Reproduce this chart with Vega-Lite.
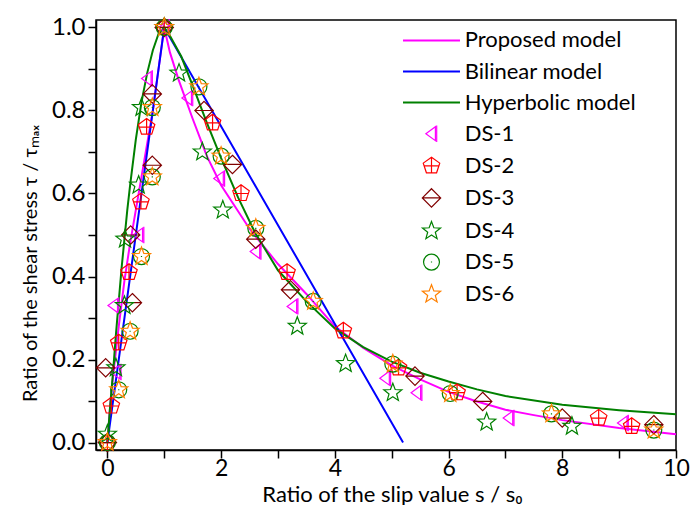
{
  "$schema": "https://vega.github.io/schema/vega-lite/v6.json",
  "width": 580,
  "height": 430,
  "autosize": {"type": "none"},
  "padding": {"left": 96, "top": 20, "right": 15, "bottom": 55},
  "background": "white",
  "config": {
    "view": {"stroke": "#000", "strokeWidth": 1.5},
    "font": "Lato",
    "axis": {
      "grid": false,
      "domainColor": "#000",
      "domainWidth": 1.5,
      "tickColor": "#000",
      "tickWidth": 1.5,
      "tickSize": 8,
      "labelFont": "Lato",
      "labelFontSize": 23,
      "labelColor": "#000",
      "labelFlush": false,
      "labelOverlap": false,
      "titleFont": "Lato",
      "titleFontSize": 22,
      "titleFontWeight": "normal",
      "titleColor": "#000"
    }
  },
  "datasets": {
    "models": [
      {"x": 0, "y": 0, "series": "Proposed model"},
      {"x": 0.05, "y": 0.09, "series": "Proposed model"},
      {"x": 0.1, "y": 0.16, "series": "Proposed model"},
      {"x": 0.2, "y": 0.28, "series": "Proposed model"},
      {"x": 0.3, "y": 0.39, "series": "Proposed model"},
      {"x": 0.4, "y": 0.48, "series": "Proposed model"},
      {"x": 0.5, "y": 0.56, "series": "Proposed model"},
      {"x": 0.6, "y": 0.64, "series": "Proposed model"},
      {"x": 0.7, "y": 0.72, "series": "Proposed model"},
      {"x": 0.8, "y": 0.8, "series": "Proposed model"},
      {"x": 0.9, "y": 0.9, "series": "Proposed model"},
      {"x": 1.0, "y": 1.0, "series": "Proposed model"},
      {"x": 1.1, "y": 0.94, "series": "Proposed model"},
      {"x": 1.25, "y": 0.875, "series": "Proposed model"},
      {"x": 1.5, "y": 0.78, "series": "Proposed model"},
      {"x": 1.75, "y": 0.69, "series": "Proposed model"},
      {"x": 2.0, "y": 0.62, "series": "Proposed model"},
      {"x": 2.5, "y": 0.515, "series": "Proposed model"},
      {"x": 3.0, "y": 0.43, "series": "Proposed model"},
      {"x": 3.5, "y": 0.358, "series": "Proposed model"},
      {"x": 4.0, "y": 0.28, "series": "Proposed model"},
      {"x": 4.5, "y": 0.228, "series": "Proposed model"},
      {"x": 5.0, "y": 0.186, "series": "Proposed model"},
      {"x": 5.5, "y": 0.152, "series": "Proposed model"},
      {"x": 6.0, "y": 0.122, "series": "Proposed model"},
      {"x": 6.5, "y": 0.099, "series": "Proposed model"},
      {"x": 7.0, "y": 0.079, "series": "Proposed model"},
      {"x": 7.5, "y": 0.066, "series": "Proposed model"},
      {"x": 8.0, "y": 0.054, "series": "Proposed model"},
      {"x": 9.0, "y": 0.035, "series": "Proposed model"},
      {"x": 10.0, "y": 0.02, "series": "Proposed model"},
      {"x": 0, "y": 0, "series": "Bilinear model"},
      {"x": 1.0, "y": 1.0, "series": "Bilinear model"},
      {"x": 5.2, "y": 0, "series": "Bilinear model"},
      {"x": 0, "y": 0, "series": "Hyperbolic model"},
      {"x": 0.05, "y": 0.09, "series": "Hyperbolic model"},
      {"x": 0.1, "y": 0.17, "series": "Hyperbolic model"},
      {"x": 0.15, "y": 0.26, "series": "Hyperbolic model"},
      {"x": 0.2, "y": 0.34, "series": "Hyperbolic model"},
      {"x": 0.25, "y": 0.42, "series": "Hyperbolic model"},
      {"x": 0.3, "y": 0.49, "series": "Hyperbolic model"},
      {"x": 0.35, "y": 0.56, "series": "Hyperbolic model"},
      {"x": 0.4, "y": 0.62, "series": "Hyperbolic model"},
      {"x": 0.5, "y": 0.73, "series": "Hyperbolic model"},
      {"x": 0.6, "y": 0.82, "series": "Hyperbolic model"},
      {"x": 0.7, "y": 0.89, "series": "Hyperbolic model"},
      {"x": 0.8, "y": 0.945, "series": "Hyperbolic model"},
      {"x": 0.9, "y": 0.985, "series": "Hyperbolic model"},
      {"x": 1.0, "y": 1.0, "series": "Hyperbolic model"},
      {"x": 1.1, "y": 0.98, "series": "Hyperbolic model"},
      {"x": 1.3, "y": 0.93, "series": "Hyperbolic model"},
      {"x": 1.5, "y": 0.86, "series": "Hyperbolic model"},
      {"x": 1.75, "y": 0.77, "series": "Hyperbolic model"},
      {"x": 2.0, "y": 0.685, "series": "Hyperbolic model"},
      {"x": 2.3, "y": 0.59, "series": "Hyperbolic model"},
      {"x": 2.6, "y": 0.505, "series": "Hyperbolic model"},
      {"x": 3.0, "y": 0.415, "series": "Hyperbolic model"},
      {"x": 3.5, "y": 0.34, "series": "Hyperbolic model"},
      {"x": 4.0, "y": 0.275, "series": "Hyperbolic model"},
      {"x": 4.5, "y": 0.23, "series": "Hyperbolic model"},
      {"x": 5.0, "y": 0.195, "series": "Hyperbolic model"},
      {"x": 5.5, "y": 0.168, "series": "Hyperbolic model"},
      {"x": 6.0, "y": 0.147, "series": "Hyperbolic model"},
      {"x": 6.5, "y": 0.128, "series": "Hyperbolic model"},
      {"x": 7.0, "y": 0.112, "series": "Hyperbolic model"},
      {"x": 8.0, "y": 0.091, "series": "Hyperbolic model"},
      {"x": 9.0, "y": 0.078, "series": "Hyperbolic model"},
      {"x": 10.0, "y": 0.068, "series": "Hyperbolic model"}
    ],
    "tests": [
      {"x": 0.15, "y": 0.17, "series": "DS-1"},
      {"x": 0.11, "y": 0.33, "series": "DS-1"},
      {"x": 0.55, "y": 0.5, "series": "DS-1"},
      {"x": 0.7, "y": 0.877, "series": "DS-1"},
      {"x": 1.0, "y": 1.0, "series": "DS-1"},
      {"x": 1.41, "y": 0.83, "series": "DS-1"},
      {"x": 1.97, "y": 0.636, "series": "DS-1"},
      {"x": 2.61, "y": 0.46, "series": "DS-1"},
      {"x": 3.26, "y": 0.328, "series": "DS-1"},
      {"x": 4.89, "y": 0.155, "series": "DS-1"},
      {"x": 5.44, "y": 0.12, "series": "DS-1"},
      {"x": 7.06, "y": 0.059, "series": "DS-1"},
      {"x": 9.07, "y": 0.047, "series": "DS-1"},
      {"x": 0, "y": 0, "series": "DS-2"},
      {"x": 0.07, "y": 0.088, "series": "DS-2"},
      {"x": 0.2, "y": 0.24, "series": "DS-2"},
      {"x": 0.38, "y": 0.41, "series": "DS-2"},
      {"x": 0.59, "y": 0.58, "series": "DS-2"},
      {"x": 0.69, "y": 0.76, "series": "DS-2"},
      {"x": 1.0, "y": 1.0, "series": "DS-2"},
      {"x": 1.85, "y": 0.77, "series": "DS-2"},
      {"x": 2.35, "y": 0.6, "series": "DS-2"},
      {"x": 3.16, "y": 0.41, "series": "DS-2"},
      {"x": 4.15, "y": 0.269, "series": "DS-2"},
      {"x": 5.12, "y": 0.18, "series": "DS-2"},
      {"x": 6.15, "y": 0.12, "series": "DS-2"},
      {"x": 8.64, "y": 0.059, "series": "DS-2"},
      {"x": 9.22, "y": 0.039, "series": "DS-2"},
      {"x": 0, "y": 0, "series": "DS-3"},
      {"x": -0.03, "y": 0.18, "series": "DS-3"},
      {"x": 0.44, "y": 0.337, "series": "DS-3"},
      {"x": 0.41, "y": 0.5, "series": "DS-3"},
      {"x": 0.79, "y": 0.668, "series": "DS-3"},
      {"x": 0.79, "y": 0.84, "series": "DS-3"},
      {"x": 1.0, "y": 1.0, "series": "DS-3"},
      {"x": 1.7, "y": 0.8, "series": "DS-3"},
      {"x": 2.2, "y": 0.67, "series": "DS-3"},
      {"x": 2.61, "y": 0.49, "series": "DS-3"},
      {"x": 3.22, "y": 0.368, "series": "DS-3"},
      {"x": 5.41, "y": 0.16, "series": "DS-3"},
      {"x": 6.6, "y": 0.099, "series": "DS-3"},
      {"x": 8.0, "y": 0.059, "series": "DS-3"},
      {"x": 9.61, "y": 0.043, "series": "DS-3"},
      {"x": 0, "y": 0.02, "series": "DS-4"},
      {"x": 0.15, "y": 0.18, "series": "DS-4"},
      {"x": 0.3, "y": 0.33, "series": "DS-4"},
      {"x": 0.31, "y": 0.49, "series": "DS-4"},
      {"x": 0.55, "y": 0.62, "series": "DS-4"},
      {"x": 0.6, "y": 0.807, "series": "DS-4"},
      {"x": 1.0, "y": 1.0, "series": "DS-4"},
      {"x": 1.26, "y": 0.89, "series": "DS-4"},
      {"x": 1.67, "y": 0.7, "series": "DS-4"},
      {"x": 2.03, "y": 0.56, "series": "DS-4"},
      {"x": 3.34, "y": 0.28, "series": "DS-4"},
      {"x": 4.19, "y": 0.19, "series": "DS-4"},
      {"x": 5.02, "y": 0.12, "series": "DS-4"},
      {"x": 6.67, "y": 0.049, "series": "DS-4"},
      {"x": 8.17, "y": 0.039, "series": "DS-4"},
      {"x": 0, "y": 0, "series": "DS-5"},
      {"x": 0.2, "y": 0.127, "series": "DS-5"},
      {"x": 0.4, "y": 0.268, "series": "DS-5"},
      {"x": 0.6, "y": 0.448, "series": "DS-5"},
      {"x": 0.79, "y": 0.64, "series": "DS-5"},
      {"x": 0.79, "y": 0.807, "series": "DS-5"},
      {"x": 1.0, "y": 1.0, "series": "DS-5"},
      {"x": 1.61, "y": 0.857, "series": "DS-5"},
      {"x": 2.0, "y": 0.69, "series": "DS-5"},
      {"x": 2.61, "y": 0.516, "series": "DS-5"},
      {"x": 3.62, "y": 0.34, "series": "DS-5"},
      {"x": 5.02, "y": 0.189, "series": "DS-5"},
      {"x": 6.03, "y": 0.118, "series": "DS-5"},
      {"x": 7.81, "y": 0.069, "series": "DS-5"},
      {"x": 9.61, "y": 0.03, "series": "DS-5"},
      {"x": 0, "y": 0, "series": "DS-6"},
      {"x": 0.2, "y": 0.127, "series": "DS-6"},
      {"x": 0.4, "y": 0.268, "series": "DS-6"},
      {"x": 0.6, "y": 0.448, "series": "DS-6"},
      {"x": 0.79, "y": 0.64, "series": "DS-6"},
      {"x": 0.79, "y": 0.807, "series": "DS-6"},
      {"x": 1.0, "y": 1.0, "series": "DS-6"},
      {"x": 1.61, "y": 0.857, "series": "DS-6"},
      {"x": 2.0, "y": 0.69, "series": "DS-6"},
      {"x": 2.61, "y": 0.516, "series": "DS-6"},
      {"x": 3.62, "y": 0.34, "series": "DS-6"},
      {"x": 5.02, "y": 0.189, "series": "DS-6"},
      {"x": 6.03, "y": 0.118, "series": "DS-6"},
      {"x": 7.81, "y": 0.069, "series": "DS-6"},
      {"x": 9.61, "y": 0.03, "series": "DS-6"}
    ]
  },
  "encoding": {
    "x": {
      "field": "x",
      "type": "quantitative",
      "scale": {"domain": [-0.2, 10], "nice": false, "zero": false},
      "axis": {
        "title": "Ratio of the slip value s / s₀",
        "values": [0, 1, 2, 3, 4, 5, 6, 7, 8, 9, 10],
        "format": "d",
        "labelExpr": "datum.value % 2 === 0 ? datum.label : ''",
        "labelFontSize": 23,
        "labelPadding": -1,
        "titleY": 51,
        "titleX": 296,
        "titleBaseline": "alphabetic",
        "encode": {"ticks": {"update": {"y2": {"signal": "datum.value % 2 === 0 ? 8 : 4"}}}}
      }
    },
    "y": {
      "field": "y",
      "type": "quantitative",
      "scale": {"domain": [-0.018, 1.018], "nice": false, "zero": false},
      "axis": {
        "title": "Ratio of the shear stress τ / τₘₐₓ",
        "values": [0, 0.1, 0.2, 0.3, 0.4, 0.5, 0.6, 0.7, 0.8, 0.9, 1.0],
        "labelExpr": "round(datum.value * 10) % 2 === 0 ? format(datum.value, '.1f') : ''",
        "labelFontSize": 24,
        "labelPadding": 3,
        "titleFontSize": 20,
        "titleX": -60,
        "titleY": 243,
        "titleBaseline": "alphabetic",
        "encode": {"ticks": {"update": {"x2": {"signal": "round(datum.value * 10) % 2 === 0 ? -8 : -4"}}}}
      }
    }
  },
  "layer": [
    {
      "data": {"name": "models"},
      "mark": {"type": "line", "strokeWidth": 2},
      "encoding": {
        "color": {
          "field": "series",
          "type": "nominal",
          "scale": {
            "domain": ["Proposed model", "Bilinear model", "Hyperbolic model", "DS-1", "DS-2", "DS-3", "DS-4", "DS-5", "DS-6"],
            "range": ["#ff00ff", "#0000ff", "#008000", "#ff00ff", "#ff0000", "#800000", "#008000", "#008000", "#ff8000"]
          },
          "legend": {
            "title": null,
            "orient": "none",
            "legendX": 304.7,
            "legendY": 9.4,
            "padding": 0,
            "symbolSize": 300,
            "symbolOffset": 19.8,
            "labelOffset": 22.2,
            "rowPadding": 9.1,
            "labelFont": "Lato",
            "labelFontSize": 22,
            "labelColor": "#000",
            "labelLimit": 400,
            "encode": {
              "symbols": {
                "update": {
                  "fill": {"value": "transparent"},
                  "stroke": {"scale": "color", "field": "value"},
                  "strokeWidth": {"signal": "indexof(['Proposed model','Bilinear model','Hyperbolic model'], datum.value) >= 0 ? 2 : 1.2"}
                }
              }
            }
          }
        }
      }
    },
    {
      "data": {"name": "tests"},
      "mark": {"type": "point", "filled": false, "size": 300, "strokeWidth": 1.2, "opacity": 1},
      "encoding": {
        "color": {"field": "series", "type": "nominal"},
        "shape": {
          "field": "series",
          "type": "nominal",
          "scale": {
            "domain": ["Proposed model", "Bilinear model", "Hyperbolic model", "DS-1", "DS-2", "DS-3", "DS-4", "DS-5", "DS-6"],
            "range": [
              "M-3.29,0L3.29,0",
              "M-3.29,0L3.29,0",
              "M-3.29,0L3.29,0",
              "M-3.29,0M3.29,0M-0.65,0L0.45,-0.8L0.45,0.8ZM0.6,-0.95L0.6,0.95",
              "M-3.29,0M3.29,0M0,-1L0.951,-0.309L0.588,0.809L-0.588,0.809L-0.951,-0.309ZM0,-1L0,0.809M-0.851,0L0.851,0",
              "M-3.29,0M3.29,0M0,-1.06L1.06,0L0,1.06L-1.06,0ZM-1.06,0L1.06,0",
              "M-3.29,0M3.29,0M0,-1.1L0.272,-0.374L1.046,-0.34L0.439,0.143L0.647,0.89L0,0.462L-0.647,0.89L-0.439,0.143L-1.046,-0.34L-0.272,-0.374Z",
              "M-3.29,0M3.29,0M0.92,0A0.92,0.92,0,1,1,-0.92,0A0.92,0.92,0,1,1,0.92,0ZM0,-0.06L0,0.06",
              "M-3.29,0M3.29,0M0,-1.1L0.272,-0.374L1.046,-0.34L0.439,0.143L0.647,0.89L0,0.462L-0.647,0.89L-0.439,0.143L-1.046,-0.34L-0.272,-0.374Z"
            ]
          },
          "legend": {
            "title": null,
            "orient": "none",
            "legendX": 304.7,
            "legendY": 9.4,
            "padding": 0,
            "symbolSize": 300,
            "symbolOffset": 19.8,
            "labelOffset": 22.2,
            "rowPadding": 9.1,
            "labelFont": "Lato",
            "labelFontSize": 22,
            "labelColor": "#000",
            "labelLimit": 400
          }
        }
      }
    }
  ]
}
